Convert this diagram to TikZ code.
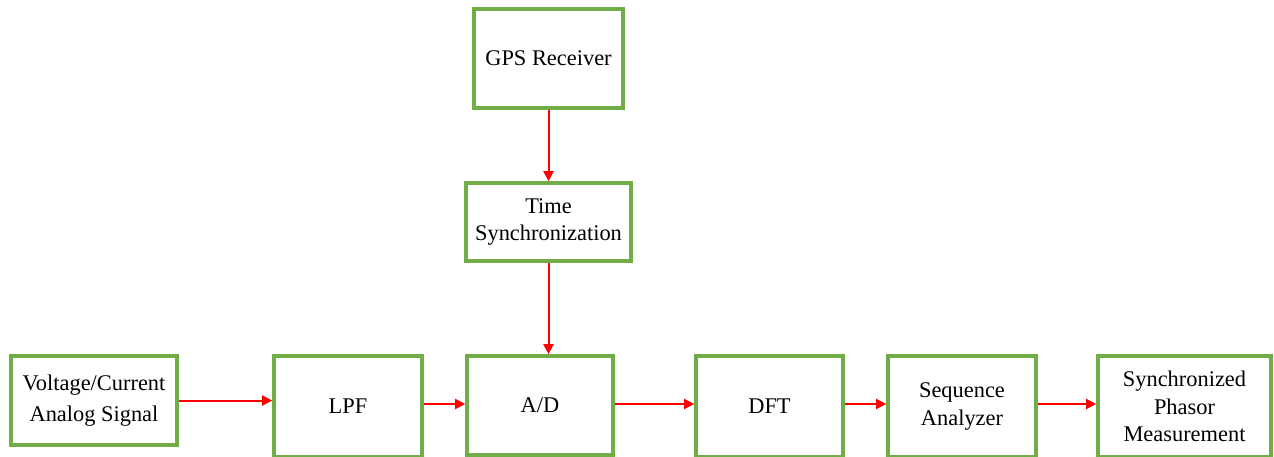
\documentclass[tikz,border=0pt]{standalone}
\usepackage{fontspec}
\setmainfont{Liberation Serif}
\usetikzlibrary{arrows.meta}
\definecolor{boxgreen}{HTML}{70AD47}
\definecolor{flowred}{HTML}{FF0000}
\tikzset{
  blockbox/.style={draw=boxgreen, line width=3.6pt, fill=white, align=center,
    inner sep=0pt, font=\fontsize{22.4}{27.5}\selectfont},
  flow/.style={draw=flowred, line width=2pt,
    -{Triangle[length=10pt,width=10pt]}}
}
\begin{document}
\begin{tikzpicture}[x=1pt,y=-1pt]
  \useasboundingbox (0,0) rectangle (1274,456);
  % upper chain
  \node[blockbox, minimum width=149pt, minimum height=99pt] (gps) at (548.5,58.5) {GPS Receiver};
  \node[blockbox, minimum width=165pt, minimum height=78pt] (time) at (548.5,222) {Time\\Synchronization};
  % signal path
  \node[blockbox, minimum width=166pt, minimum height=89pt, font=\fontsize{22.4}{31}\selectfont] (volt) at (94,400.5) {Voltage/Current\\Analog Signal};
  \node[blockbox, minimum width=148pt, minimum height=101pt] (lpf) at (348,406.5) {LPF};
  \node[blockbox, minimum width=146pt, minimum height=99pt] (ad) at (540,405.5) {A/D};
  \node[blockbox, minimum width=147pt, minimum height=101pt] (dft) at (769.5,406.5) {DFT};
  \node[blockbox, minimum width=148pt, minimum height=101pt] (seq) at (962,406.5) {Sequence\\Analyzer};
  \node[blockbox, minimum width=173pt, minimum height=101pt] (sync) at (1184.5,406.5) {Synchronized\\Phasor\\Measurement};
  % connectors
  \draw[flow] (gps.south) -- (time.north);
  \draw[flow] (time.south) -- (time.south |- ad.north);
  \draw[flow] (volt.east) -- (volt.east -| lpf.west);
  \draw[flow] ([yshift=1.5pt]ad.west -| lpf.east) -- ([yshift=1.5pt]ad.west);
  \draw[flow] ([yshift=1.5pt]ad.east) -- ([yshift=1.5pt]ad.east -| dft.west);
  \draw[flow] ([yshift=1.5pt]ad.east -| dft.east) -- ([yshift=1.5pt]ad.east -| seq.west);
  \draw[flow] ([yshift=1.5pt]ad.east -| seq.east) -- ([yshift=1.5pt]ad.east -| sync.west);
\end{tikzpicture}
\end{document}
